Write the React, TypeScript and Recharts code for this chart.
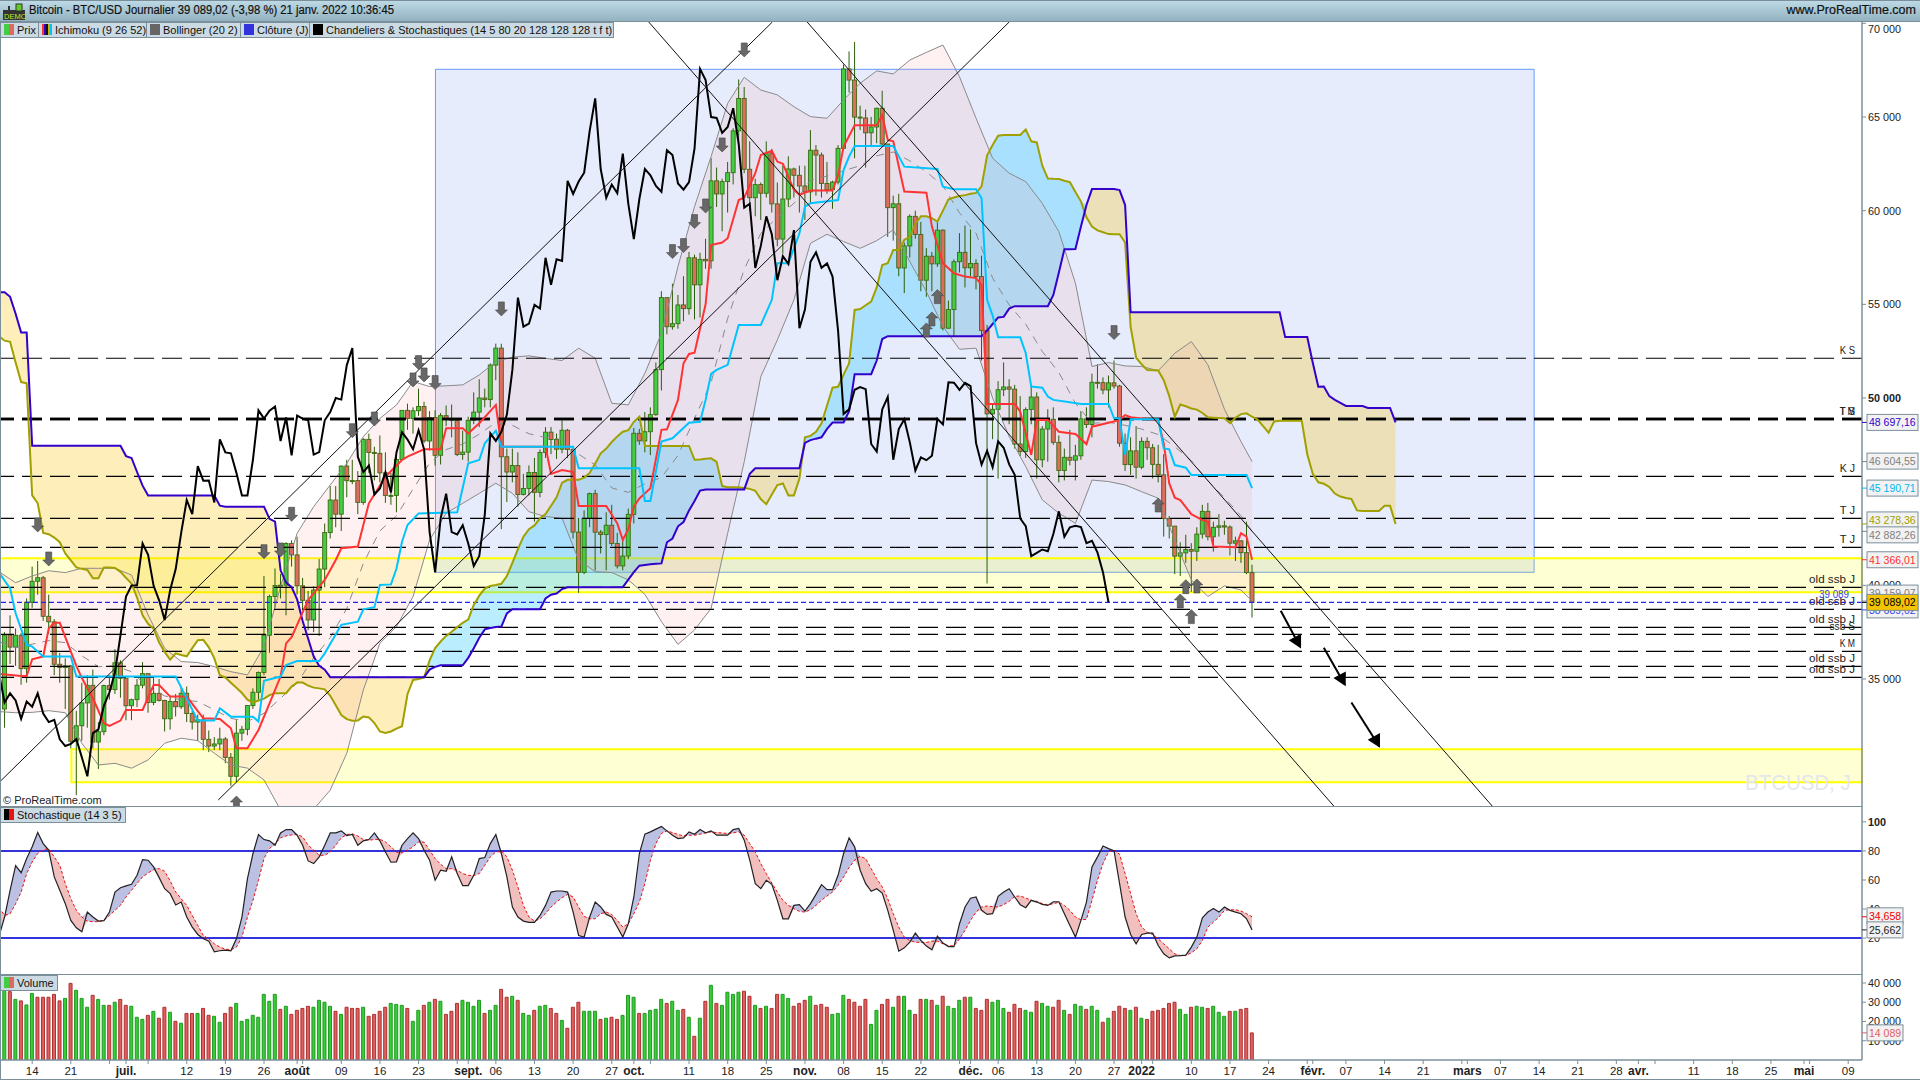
import {
  Area,
  Bar,
  Cell,
  ComposedChart,
  Line,
  ReferenceArea,
  ReferenceLine,
  Scatter,
  XAxis,
  YAxis,
} from 'recharts';

// Daily candles, first one is 9 June 2021 (day -5), day 0 is 14 June 2021
const closes = [
  37345, 36702, 37334, 35552, 39097, 40218, 40406, 38347, 38053, 35787,
  35615, 35698, 31676, 32505, 33723, 34662, 31637, 32186, 34649, 34434,
  35867, 35040, 33572, 33897, 34668, 35287, 33746, 34235, 33855, 32877,
  33798, 33520, 34240, 33155, 32702, 32822, 31780, 31421, 31533, 31796,
  30817, 29807, 32110, 32313, 33581, 34292, 35350, 37337, 39406, 39995,
  40008, 42235, 41626, 39974, 39201, 38152, 39747, 40869, 42816, 44555,
  43798, 46365, 45585, 45593, 44428, 47793, 47096, 47047, 46004, 44801,
  44802, 46717, 49339, 48905, 49321, 49546, 47706, 48960, 46942, 49058,
  48897, 48806, 46981, 47112, 48810, 49246, 49999, 49915, 51756, 52663,
  46863, 46048, 46395, 44850, 45173, 46025, 44963, 47092, 48176, 47783,
  47267, 48279, 47260, 42843, 40693, 43574, 44895, 42839, 42716, 43208,
  42235, 41034, 41564, 43790, 48116, 47711, 48199, 49112, 51514, 55361,
  53805, 53967, 54968, 54771, 57484, 56041, 57401, 57321, 61593, 60892,
  61553, 62026, 64261, 65992, 62210, 60692, 61393, 60930, 63039, 60363,
  58482, 60622, 62227, 61888, 61318, 61004, 63226, 62970, 61452, 61125,
  61527, 63326, 67566, 66971, 64995, 64949, 64155, 64469, 65466, 63557,
  60161, 60368, 56942, 58119, 59697, 58730, 56289, 57569, 57159, 58960,
  53726, 54721, 57274, 57776, 56950, 57184, 56480, 53601, 49152, 49396,
  50441, 50588, 50471, 47545, 47140, 49389, 50053, 46702, 48343, 48864,
  47632, 46131, 46834, 46681, 46914, 48889, 48588, 50838, 50820, 50429,
  50809, 50640, 47588, 46444, 47178, 46306, 47686, 47345, 46458, 45897,
  43569, 43160, 41558, 41734, 41912, 41821, 42735, 43949, 42591, 43099,
  43177, 43113, 42250, 42375, 41744, 40680, 39089.02,
];
const opens = [33400, ...closes.slice(0, -1)];
const highs = [
  37500, 38400, 37700, 37450, 39300, 41000, 41300, 40500, 39500, 38200,
  36400, 36100, 35750, 33300, 34800, 35200, 35500, 32700, 34700, 35200,
  36600, 36000, 35050, 33950, 35000, 35900, 35300, 35100, 35000, 33900,
  34100, 34200, 34550, 34600, 33300, 33100, 33100, 32250, 31900, 32400,
  31900, 31050, 32800, 32500, 33600, 34500, 35400, 40500, 39500, 40900,
  40600, 42300, 42400, 42600, 40400, 39700, 39950, 41400, 43300, 45300,
  45300, 46400, 46700, 46700, 46100, 47850, 48100, 47400, 48000, 47100,
  46000, 47000, 49350, 49700, 49500, 50500, 49800, 49300, 49350, 49200,
  49600, 49650, 48900, 48250, 49000, 50300, 51000, 50500, 51850, 52900,
  52900, 47300, 47300, 47100, 45950, 46400, 46800, 47250, 48450, 48450,
  48100, 48800, 48350, 47300, 43600, 44000, 44950, 45100, 42950, 43900,
  44300, 42800, 42600, 44100, 48400, 48350, 49250, 49500, 51900, 55700,
  55300, 56100, 55500, 56500, 57800, 57650, 57750, 58500, 62800, 62300,
  61700, 62600, 64400, 67000, 66600, 63700, 61700, 61500, 63700, 63300,
  61500, 62400, 62900, 62300, 62400, 62400, 64300, 63500, 63100, 62600,
  61600, 63500, 67800, 68500, 69000, 65600, 65400, 65000, 65500, 66400,
  63500, 60800, 60900, 58300, 59800, 60000, 59400, 58000, 57800, 59400,
  59000, 55200, 57400, 58800, 59200, 59000, 57400, 57600, 53900, 49700,
  50900, 51900, 51000, 50700, 50100, 49500, 50700, 50300, 48500, 49400,
  49500, 48000, 47300, 48300, 47500, 49300, 49500, 51300, 51800, 51100,
  51200, 52000, 50700, 48100, 47900, 48500, 47900, 47900, 47550, 47500,
  47000, 43700, 43100, 42300, 42700, 42250, 43100, 44300, 44400, 43400,
  43800, 43450, 43200, 42600, 42400, 43400, 41100,
];
const lows = [
  32400, 35800, 35700, 34700, 34800, 38800, 39500, 38100, 37400, 35200,
  34800, 33400, 31300, 28800, 31700, 32400, 31300, 30200, 32000, 33900,
  34200, 34000, 32800, 32800, 33500, 34500, 33200, 33600, 33800, 32200,
  32300, 33000, 33400, 32700, 32300, 31700, 31200, 31100, 31200, 31200,
  30500, 29300, 29500, 31700, 32000, 33400, 33900, 35200, 36400, 38800,
  39300, 38400, 41000, 39500, 38700, 37600, 37500, 37300, 39900, 42500,
  43100, 42900, 44700, 45400, 43800, 44300, 46000, 45600, 45500, 44400,
  44300, 43900, 46700, 48300, 48100, 49050, 47600, 47200, 46400, 46450,
  48500, 47900, 46900, 46700, 46600, 48600, 48450, 49500, 49500, 50950,
  43000, 44450, 45500, 44200, 44800, 44800, 43400, 44700, 46800, 47000,
  46750, 47050, 46800, 42500, 39600, 40600, 43100, 40800, 41700, 40800,
  42100, 40900, 40800, 41400, 43300, 47500, 47100, 46950, 49050, 50400,
  53400, 53650, 53700, 54100, 54450, 54200, 54300, 56900, 56900, 60200,
  58900, 59900, 61400, 63500, 62000, 60000, 59700, 59500, 60700, 59900,
  58100, 57700, 60200, 60700, 59900, 59500, 60400, 60800, 60700, 60900,
  60100, 61400, 63300, 66300, 62800, 64300, 62300, 63400, 63600, 63400,
  58600, 58400, 56500, 55600, 57500, 58500, 55700, 55400, 55700, 57000,
  53600, 53700, 53300, 56700, 55900, 56500, 55800, 52000, 40100, 47800,
  45700, 50100, 48600, 47300, 46900, 46800, 48600, 45700, 46300, 46600,
  47500, 45500, 45600, 46400, 45600, 46700, 48400, 47900, 50500, 50200,
  49500, 50500, 47400, 46100, 45900, 45700, 46200, 46700, 45700, 45500,
  42600, 42500, 40600, 40500, 41200, 39650, 41300, 42500, 42400, 41800,
  42600, 42700, 41600, 41300, 41200, 40600, 38280,
];

// Ichimoku cloud, one value per day from day -6 to day 247
const senkouB = [
  55650, 55650, 55400, 54500, 53500, 53500, 47450, 47450, 47450, 47450,
  47450, 47450, 47450, 47450, 47450, 47450, 47450, 47450, 47450, 47450,
  47450, 47450, 47450, 46900, 46800, 46050, 45320, 44800, 44800, 44800,
  44800, 44800, 44800, 44800, 44800, 44800, 44800, 44800, 44800, 44800,
  44250, 44200, 44200, 44200, 44200, 44200, 44200, 44200, 44200, 43550,
  43400, 40800, 40150, 39900, 39250, 38100, 37150, 36200, 35700, 35500,
  35100, 35100, 35100, 35100, 35100, 35100, 35100, 35100, 35100, 35100,
  35100, 35100, 35100, 35100, 35100, 35100, 35100, 35100, 35500, 35650,
  35730, 35730, 35730, 35730, 35730, 36130, 36640, 37200, 37650, 37720,
  37770, 37800, 38500, 38720, 38720, 38720, 38720, 38720, 38720, 39300,
  39500, 39560, 39800, 39900, 39900, 39900, 39900, 39900, 39900, 39900,
  39900, 39900, 39900, 39900, 40300, 40700, 41050, 41090, 41120, 41150,
  41170, 42300, 42500, 43150, 43380, 44000, 44500, 45060, 45120, 45120,
  45120, 45120, 45120, 45120, 45120, 45120, 45950, 46250, 46250, 46250,
  46250, 46250, 46250, 46250, 46250, 46250, 47600, 47750, 47830, 47900,
  48350, 48690, 48690, 48690, 49300, 51270, 51270, 51270, 51270, 52000,
  53150, 53300, 53300, 53300, 53300, 53300, 53300, 53300, 53300, 53300,
  53300, 53300, 53300, 53300, 53300, 53300, 53300, 53300, 53300, 53600,
  53950, 54300, 54330, 54770, 54900, 54900, 54900, 54900, 54900, 54900,
  54900, 55500, 56700, 57940, 57940, 57950, 59150, 60300, 61150, 61150,
  61150, 61150, 61150, 61100, 60300, 54580, 54580, 54580, 54580, 54580,
  54580, 54580, 54580, 54580, 54580, 54580, 54580, 54580, 54580, 54580,
  54580, 54580, 54580, 54580, 54580, 54580, 54580, 54580, 54580, 54580,
  54580, 54580, 54580, 53250, 53250, 53250, 53250, 53250, 51880, 50600,
  50610, 50100, 49900, 49740, 49575, 49573, 49570, 49570, 49470, 49466,
  49466, 49466, 49466, 48697.16,
];
const senkouA = [
  53300, 53060, 53000, 51900, 50850, 50790, 44800, 44380, 42800, 42730,
  42550, 42300, 41700, 41330, 40960, 40880, 40820, 40380, 40380, 40950,
  40950, 40930, 40720, 40400, 40100, 39350, 38400, 37950, 37680, 36950,
  36450, 36030, 36370, 36280, 36210, 36650, 37070, 37090, 36690, 36100,
  35200, 35080, 34800, 34530, 34250, 33900, 33750, 33850, 33950, 34140,
  34240, 34240, 34240, 34600, 34810, 34810, 34650, 34540, 34500, 34450,
  34100, 33600, 33080, 32860, 32770, 32790, 33000, 32950, 32650, 32200,
  32120, 32200, 32350, 32480, 34200, 34950, 35000, 35080, 36000, 36650,
  37000, 37300, 37520, 37770, 38000, 38170, 38950, 39450, 39830, 39970,
  40020, 40080, 40500, 41200, 41930, 42600, 43000, 43200, 43580, 43800,
  44250, 44700, 45480, 45630, 45630, 45630, 45750, 46000, 46500, 47050,
  47300, 47650, 47950, 48200, 48280, 48730, 49000, 47450, 47440, 47440,
  47440, 47440, 47440, 47440, 47440, 47440, 46700, 46720, 46760, 46780,
  46590, 45300, 45240, 45240, 45240, 45200, 45150, 45050, 44600, 44330,
  44850, 45350, 45440, 44800, 44800, 45700, 47900, 47980, 48200, 48650,
  49600, 50550, 50600, 51250, 51850, 54700, 54750, 54950, 55150, 55900,
  57100, 57200, 57900, 57900, 58450, 58600, 59300, 59700, 59700, 59600,
  59420, 60000, 60600, 60700, 60780, 60830, 60900, 60950, 61300, 62950,
  63500, 64000, 64040, 64040, 64040, 64040, 64340, 63700, 63640, 62400,
  61720, 61700, 61690, 61600, 61520, 61000, 60500, 59650, 59150, 58950,
  58850, 58750, 58740, 58740, 58300, 53800, 52150, 51800, 51490, 51480,
  51470, 50950, 50100, 49000, 49650, 49560, 49440, 49380, 49200, 48970,
  48950, 48930, 48915, 48660, 48950, 49140, 49180, 49000, 48850, 48500,
  48150, 48750, 48790, 48790, 48790, 48790, 48790, 47000, 45950, 45500,
  45420, 45250, 44900, 44740, 44660, 44610, 44000, 43970, 43970, 43970,
  43970, 44250, 44250, 43278.36,
];

// Tenkan and kijun, read at the corners of each line
const tenkanDays = [
  -6, -2, -1, 0, 2, 3, 4, 5, 8, 9, 11, 13, 14, 16, 17, 20, 22, 23, 25, 28, 31, 34, 36, 37, 39, 41, 43, 45, 46, 47, 50,
  53, 55, 56, 59, 61, 64, 67, 68, 71, 74, 75, 78, 79, 81, 84, 85, 93, 94, 96, 98, 99, 104, 106, 107, 108, 109, 110,
  112, 114, 115, 117, 118, 119, 120, 122, 123, 125, 126, 128, 129, 131, 132, 134, 135, 136, 138, 139, 141, 145, 146,
  147, 149, 153, 154, 155, 156, 158, 162, 163, 165, 167, 169, 171, 172, 173, 178, 179, 181, 182, 184, 186, 189, 191,
  192, 195, 197, 198, 199, 204, 205, 206, 207, 208, 210, 212, 213, 214, 218, 219, 220, 221,
];
const tenkanValues = [
  35270, 35160, 35160, 36050, 36200, 37700, 38000, 38000, 35700, 35050, 33970, 32640, 32500, 32780, 33350, 33350, 34680,
  34680, 34060, 34060, 32900, 32870, 32370, 31300, 31300, 32280, 33700, 35130, 36900, 37230, 39220, 40290, 41350, 41980,
  42070, 44380, 45800, 46690, 46870, 47260, 47260, 48380, 48380, 48110, 48650, 49630, 47400, 47400, 45950, 46150, 46050,
  44240, 44240, 43300, 42420, 43000, 44200, 44640, 45180, 48300, 48330, 49900, 51850, 52350, 52420, 55000, 58170, 58300,
  58530, 60570, 60700, 62000, 62970, 63200, 62620, 62500, 61110, 60840, 61070, 61070, 61900, 63420, 64560, 64560, 65100,
  63770, 63700, 61020, 60960, 59150, 57190, 56660, 56480, 56400, 56040, 49680, 49680, 49270, 46960, 48830, 48830, 48200,
  48080, 47540, 48470, 48680, 48820, 49090, 48970, 48820, 47580, 45440, 44680, 44550, 43800, 43480, 43400, 42070, 42030,
  42780, 42600, 41366.01,
];
const kijunDays = [
  -6, -4, -3, -1, 0, 2, 7, 8, 26, 30, 33, 34, 36, 40, 41, 42, 45, 46, 48, 52, 53, 56, 59, 60, 62, 63, 65, 66, 67, 68,
  70, 77, 79, 81, 82, 84, 85, 98, 99, 110, 111, 112, 114, 116, 119, 121, 122, 123, 124, 126, 128, 132, 134, 135, 137,
  139, 140, 141, 146, 147, 148, 149, 156, 158, 164, 165, 167, 171, 172, 173, 174, 175, 179, 180, 181, 183, 184, 185,
  188, 190, 195, 196, 197, 198, 199, 204, 205, 206, 207, 209, 210, 220, 221,
];
const kijunValues = [
  40680, 39840, 38510, 36820, 36730, 36200, 36200, 35130, 35130, 32780, 32780, 33440, 32990, 32990, 32730, 34910, 35130,
  35750, 35960, 35960, 36370, 37890, 38060, 38720, 38830, 40020, 40050, 40900, 42330, 43220, 43840, 43900, 46510, 46690,
  47580, 48260, 47400, 47400, 46250, 46250, 44500, 44500, 47670, 47850, 48680, 48730, 49900, 51285, 51500, 51770, 53900,
  53900, 55240, 57190, 57190, 58790, 60220, 60400, 60570, 62170, 62890, 63450, 63450, 62350, 62230, 61280, 61140, 61140,
  60660, 55240, 54400, 53240, 53240, 52390, 50610, 50550, 50080, 49900, 49770, 49680, 49680, 48915, 48915, 46960, 48860,
  48860, 47310, 47260, 46420, 46280, 45890, 45890, 45190.71,
];

// Bollinger 20 2, read every third day
const bollingerDays = [
  -6, -3, 0, 3, 6, 9, 12, 15, 18, 21, 24, 27, 30, 33, 36, 39, 42, 45, 48, 51, 54, 57, 60, 63, 66, 69, 72, 75, 78, 81,
  84, 87, 90, 93, 96, 99, 102, 105, 108, 111, 114, 117, 120, 123, 126, 129, 132, 135, 138, 141, 144, 147, 150, 153,
  156, 159, 162, 165, 168, 171, 174, 177, 180, 183, 186, 189, 192, 195, 198, 201, 204, 207, 210, 213, 216, 219, 221,
];
const bollingerUpper = [
  40730, 40140, 40500, 40780, 40680, 40910, 40910, 40910, 40550, 38420, 36640, 35930, 35880, 35660, 35390, 35220, 36730,
  39930, 42780, 44200, 45360, 46510, 47940, 48910, 49630, 50880, 50610, 50650, 50700, 51230, 51940, 52180, 52250, 52120,
  52000, 52660, 52120, 49720, 49630, 51320, 53460, 57020, 60220, 62890, 65730, 67120, 66440, 66180, 65550, 65020, 64930,
  65910, 66800, 67460, 67300, 68040, 68450, 68840, 67150, 64930, 62800, 62000, 61550, 60390, 58880, 56130, 51680, 51890,
  51710, 51680, 51460, 52390, 53010, 51770, 49400, 47670, 46604.55,
];
const bollingerLower = [
  33260, 33200, 33220, 33310, 33200, 31570, 30410, 30500, 30240, 30680, 31570, 31840, 31710, 31040, 30410, 30240, 29610,
  28000, 26800, 28050, 29070, 31040, 34420, 36910, 37800, 39400, 42420, 43850, 44380, 44910, 45450, 44910, 43930, 43670,
  43580, 41350, 40730, 40680, 40290, 39520, 38060, 36850, 37620, 38770, 42780, 46600, 51140, 53100, 55240, 58260, 58740,
  58350, 57990, 58400, 58970, 57280, 55680, 53810, 52600, 52660, 50000, 47940, 46340, 44560, 43850, 43310, 45620, 45540,
  45360, 45000, 44650, 42420, 40290, 39400, 39970, 39750, 39159.07,
];
const bollingerMiddle = [
  37000, 36670, 36860, 37050, 36940, 36240, 35660, 35700, 35390, 34550, 34100, 33880, 33800, 33350, 32900, 32730, 33170,
  33970, 34790, 36130, 37210, 38770, 41180, 42910, 43710, 45140, 46520, 47250, 47540, 48070, 48690, 48540, 48090, 47890,
  47790, 47000, 46430, 45200, 44960, 45420, 45760, 46930, 48920, 50830, 54250, 56860, 58790, 59640, 60390, 61640, 61840,
  62130, 62400, 62930, 63130, 62660, 62070, 61330, 59880, 58790, 56400, 54970, 53940, 52480, 51360, 49720, 48650, 48710,
  48540, 48340, 48050, 47400, 46650, 45580, 44680, 43710, 42882.26,
];

// Signal arrows
const downArrowDays = [1, 3, 42, 45, 47, 58, 62, 69, 70, 71, 73, 85, 116, 118, 120, 122, 125, 129, 196];
const downArrowValues = [
  43222, 41407, 41799, 41888, 43791, 48256, 48879, 50965, 51890, 51232, 50823, 54755, 57815, 58135, 59416, 60252, 63507,
  68578, 53492,
];
const upArrowDays = [37, 162, 163, 164, 204, 208, 209, 210, 211];
const upArrowValues = [28380, 53634, 54221, 55413, 44289, 39166, 39931, 38330, 39966];

// Horizontal levels drawn by hand on the chart
const levelValues = [52122, 48879, 48879, 45819, 43578, 42030, 39895, 38721, 37760, 37387, 36479, 35679, 35092];
const levelNames = ['K S', 'T M', 'T S', 'K J', 'T J', 'T J', 'old ssb J', 'old ssb J', 'old ssb J', 'ssb S', 'K M', 'old ssb J', 'old ssb J'];

// Stochastic 14 3 5, one value per day from day -6 to day 221
const stochK = [
  21.4, 34.5, 52.9, 69.9, 65.0, 74.7, 82.8, 92.6, 85.0, 80.4, 62.1, 52.9, 43.7, 32.2, 27.1, 24.4, 37.9, 34.5, 31.7, 32.0,
  37.9, 51.7, 54.7, 55.9, 57.0, 63.2, 74.0, 73.6, 69.0, 61.6, 54.0, 50.6, 42.8, 44.8, 34.5, 27.6, 22.5, 19.5, 17.9, 10.6,
  11.3, 11.7, 11.3, 19.5, 34.5, 60.9, 78.2, 91.3, 87.8, 86.9, 83.9, 92.4, 94.7, 94.7, 90.8, 83.9, 73.1, 71.3, 75.9, 83.9,
  92.4, 92.4, 93.8, 90.6, 91.3, 83.9, 86.9, 87.8, 92.4, 86.9, 79.3, 72.2, 72.4, 83.9, 88.5, 92.4, 88.5, 80.5, 73.6, 59.8,
  66.7, 66.0, 75.9, 64.4, 56.1, 56.1, 63.2, 74.7, 75.4, 85.0, 91.3, 78.2, 62.1, 41.4, 34.5, 31.7, 30.8, 30.8, 35.6, 42.5,
  51.7, 52.4, 52.4, 51.7, 37.9, 21.8, 20.7, 34.5, 44.8, 41.4, 36.3, 34.5, 27.6, 20.7, 29.9, 48.3, 78.2,
  91.5, 93.1, 95.0, 96.8, 93.8, 90.8, 88.5, 89.0, 93.1, 91.5, 94.7, 92.4, 93.8, 90.8, 90.8, 90.8, 94.7, 95.4, 87.4, 73.6,
  57.5, 54.0, 59.8, 57.0, 46.0, 33.3, 33.3, 42.5, 43.0, 38.6, 43.7, 50.1, 56.8, 53.3, 53.3, 63.2, 78.2, 89.0, 82.8, 66.7,
  57.5, 52.2, 54.0, 51.0, 39.1, 25.3, 11.0, 13.3, 17.2, 23.4, 18.4, 14.5, 12.0, 21.4, 16.6, 14.2, 14.2, 29.9, 41.4, 47.4,
  48.3, 39.1, 36.3, 36.8, 48.7, 51.7, 54.0, 48.3, 43.0, 40.9, 46.0, 44.8, 43.2, 42.5, 45.0, 45.0, 36.8, 28.7, 20.7, 32.2,
  44.8, 69.0, 75.9, 83.4, 81.6, 80.0, 57.5, 34.5, 22.5, 16.1, 22.5, 23.4, 23.4, 14.9, 9.2, 6.4, 7.8, 8.0, 8.3, 13.8,
  20.7, 34.0, 37.9, 40.4, 37.9, 41.4, 39.1, 37.9, 36.8, 33.3, 25.662,
];
const stochD = [
  41.0, 35.6, 36.8, 43.7, 51.7, 64.4, 72.4, 78.2, 80.9, 81.4, 75.9, 70.1, 57.5, 47.1, 39.1, 34.5, 31.7, 31.3, 31.3, 32.2,
  35.6, 39.1, 42.5, 48.3, 52.9, 57.5, 62.1, 64.8, 67.1, 67.8, 66.0, 59.3, 51.7, 47.1, 42.5, 35.6, 28.7, 21.8, 19.5, 16.1,
  13.8, 12.4, 12.0, 13.8, 20.7, 34.5, 46.0, 59.8, 74.7, 81.6, 85.0, 89.0, 90.3, 91.0, 91.3, 89.7, 83.9, 80.5, 77.0, 77.0,
  79.3, 83.9, 89.0, 91.3, 91.7, 90.3, 87.8, 87.4, 87.8, 88.0, 86.2, 82.8, 79.1, 78.6, 80.5, 82.8, 86.2, 86.0, 80.5, 74.7,
  70.8, 67.8, 67.8, 66.7, 64.4, 63.2, 63.0, 64.4, 70.1, 75.9, 79.3, 80.0, 75.9, 66.7, 55.2, 42.5, 34.5, 31.7, 33.3, 36.8,
  41.4, 44.8, 47.8, 50.1, 48.3, 41.4, 34.9, 33.3, 33.3, 36.8, 37.9, 36.3, 32.2, 27.6, 29.9, 36.8, 44.8,
  57.5, 73.6, 85.0, 92.0, 93.8, 92.6, 91.3, 90.3, 90.8, 90.8, 91.5, 92.4, 93.1, 92.6, 92.4, 92.0, 92.4, 93.1, 90.8, 85.0,
  79.3, 71.3, 64.4, 57.9, 51.7, 46.0, 42.5, 40.2, 38.4, 37.9, 39.5, 42.5, 46.0, 49.0, 51.7, 56.3, 62.1, 68.5, 73.6, 76.3,
  74.7, 67.8, 60.9, 55.2, 47.1, 36.8, 27.6, 20.7, 18.4, 17.2, 17.0, 17.0, 17.9, 17.9, 16.1, 14.7, 14.7, 19.5, 25.3, 32.2,
  37.9, 41.4, 42.1, 41.6, 41.4, 43.0, 45.3, 48.7, 49.0, 47.6, 46.0, 45.3, 43.7, 42.8, 43.7, 44.6, 42.5, 39.1, 34.5, 32.6,
  32.9, 46.0, 59.8, 71.3, 79.3, 80.5, 77.7, 64.4, 50.6, 36.8, 27.6, 24.1, 22.5, 19.5, 16.1, 12.6, 9.2, 8.0, 8.0, 9.9,
  12.6, 18.4, 27.6, 31.0, 34.5, 39.1, 39.5, 39.5, 38.6, 36.8, 34.658,
];

// Volume, one bar per day from day -5 to day 221
const volumes = [
  36400, 35500, 31500, 30700, 28600, 34600, 32600, 32600, 32600, 34100, 30700, 32000, 39800, 36200, 32000, 27400, 33600,
  31500, 28400, 28400, 30000, 31500, 28400, 27900, 22200, 21100, 23200, 25300, 21700, 27400, 24800, 20100, 19100, 24200,
  24200, 24200, 26800, 23200, 22700, 19600, 24200, 27400, 29400, 20100, 21100, 23200, 22200, 34100, 30500, 34100, 26300,
  27900, 23700, 25800, 26800, 27900, 27400, 31000, 30000, 27900, 25300, 23700, 27400, 26800, 26800, 27400, 22700, 23700,
  25300, 27400, 29400, 28900, 28400, 26800, 20100, 25800, 28400, 30000, 31500, 30500, 23700, 25300, 29400, 31000, 30000,
  27900, 31000, 24200, 25800, 28400, 36700, 32600, 33100, 31000, 24200, 23200, 25800, 27900, 28400, 26800, 24200, 20600,
  16500, 27400, 30000, 25300, 25300, 25300, 21100, 21700, 22200, 21100, 23200, 33600, 32600, 24200,
  24200, 25800, 26300, 31500, 29400, 30500, 25800, 26300, 22200, 12300, 21700, 30500, 38800, 29400, 28400, 35200, 34100,
  35200, 35700, 33100, 28400, 26800, 27900, 26800, 34100, 34100, 32000, 27900, 29400, 31000, 33100, 28400, 28900, 27400,
  23700, 24200, 33600, 31500, 30000, 27900, 31500, 18500, 25800, 28900, 31500, 27400, 33100, 33100, 25800, 23700, 31500,
  31500, 31000, 28400, 33100, 27900, 26800, 31000, 32600, 32600, 26800, 25800, 31500, 30000, 31000, 26800, 24800, 28900,
  26800, 25800, 24800, 30500, 29400, 27900, 27400, 31000, 25800, 23700, 28900, 27900, 26300, 27900, 25800, 19600, 21700,
  25300, 27900, 26800, 25800, 27400, 21700, 21100, 25300, 25800, 26800, 29400, 30000, 26300, 23700, 27400, 27900, 27400,
  26800, 27900, 24800, 22700, 25300, 25300, 26300, 26800, 14089,
];
const volumeDirectionRows = [
  'grgrggrrrr', 'rgrgggrggr', 'grrgggrgrr', 'grgrrgrrgg', 'rrgggggggg', 'rgrrrrgggg', 'rgrrrgrrrr', 'gggrggrgrg',
  'rrrggggrgg', 'rrgrggrggr', 'rgrrrgggrg', 'rrgggr',
  'ggggrggrgr', 'grgrggggrr', 'grgrrggrrr', 'grrrgggrrr', 'rggrrgrggr', 'rgrgrgggrg', 'rrrgggrrrg', 'grggrrgrgg',
  'rggrgrrrgr', 'grrrrrrggr', 'ggrgggrgrrr',
];

// Tick labels
const xTickDays = [
  0, 7, 14, 17, 21, 28, 35, 42, 48, 49, 56, 63, 70, 77, 79, 84, 91, 98, 105, 109, 112, 119, 126, 133, 140, 147, 154, 161,
  168, 170, 175, 182, 189, 196, 201, 203, 210, 217, 224, 231, 232, 238, 245, 252, 259, 260, 266, 273, 280, 287, 291, 294,
  301, 308, 315, 321, 322, 329,
];
const xTickLabels = [
  '14', '21', '', 'juil.', '', '12', '19', '26', 'août', '', '09', '16', '23', '', 'sept.', '06', '13', '20', '27', 'oct.', '',
  '11', '18', '25', 'nov.', '08', '15', '22', '', 'déc.', '06', '13', '20', '27', '2022', '', '10', '17', '24', '', 'févr.',
  '07', '14', '21', '', 'mars', '07', '14', '21', '28', 'avr.', '', '11', '18', '25', 'mai', '', '09',
];
const priceTicks = [70000, 65000, 60000, 55000, 50000, 40000, 35000];
const priceTags = [48697.16, 46604.55, 45190.71, 43278.36, 42882.26, 41366.01, 39159.07, 38689.02, 39089.02];
const stochTicks = [100, 80, 60, 40, 20];
const stochTags = [34.658, 25.662];
const volumeTicks = [40000, 30000, 20000, 10000];
const volumeTag = 14089;

const FONT = "'Liberation Sans', Arial, sans-serif";
const WIDTH = 1920;
const X_DOMAIN: [number, number] = [-5.83, 331.5];
const PRICE_DOMAIN: [number, number] = [28221, 70071];
const AXIS_COLOR = '#7b8f9b';

const tagColors: Record<number, { color: string; bg: string; dy: number }> = {
  48697.16: { color: '#3300cc', bg: '#f2f2f2', dy: 0 },
  46604.55: { color: '#808080', bg: '#f2f2f2', dy: -0.5 },
  45190.71: { color: '#00b8f0', bg: '#f2f2f2', dy: 0 },
  43278.36: { color: '#a0a000', bg: '#f2f2f2', dy: -4 },
  42882.26: { color: '#808080', bg: '#f2f2f2', dy: 3.5 },
  41366.01: { color: '#ff3030', bg: '#f2f2f2', dy: 0 },
  39159.07: { color: '#808080', bg: '#f2f2f2', dy: -8 },
  38689.02: { color: '#3344ee', bg: '#f2f2f2', dy: 0 },
  39089.02: { color: '#000000', bg: '#f5c400', dy: 0 },
  34.658: { color: '#ee0000', bg: '#f2f2f2', dy: -1 },
  25.662: { color: '#222222', bg: '#f2f2f2', dy: 0 },
  14089: { color: '#e06060', bg: '#f2f2f2', dy: 0 },
};

function points(days: number[], values: number[]) {
  return days.map((day, i) => ({ day, v: values[i] }));
}

const candles = closes.map((close, i) => ({
  day: i - 5,
  open: opens[i],
  close,
  high: highs[i],
  low: lows[i],
  range: [lows[i], highs[i]],
}));

const cloud = senkouA.map((a, i) => {
  const b = senkouB[i];
  return {
    day: i - 6,
    a,
    b,
    bull: [b, Math.max(a, b)],
    bear: [Math.min(a, b), b],
  };
});

const bollinger = bollingerDays.map((day, i) => ({
  day,
  upper: bollingerUpper[i],
  lower: bollingerLower[i],
  middle: bollingerMiddle[i],
  band: [bollingerLower[i], bollingerUpper[i]],
}));

// The black line is the close moved back 26 days
const chikou = closes.slice(25).map((v, i) => ({ day: i - 6, v }));

const stochastic = stochK.map((k, i) => {
  const d = stochD[i];
  return {
    day: i - 6,
    k,
    d,
    above: [d, Math.max(k, d)],
    below: [Math.min(k, d), d],
  };
});

const directions = volumeDirectionRows.join('');
const volumeBars = volumes.map((v, i) => ({ day: i - 5, v, dir: directions[i] }));

function formatFr(value: number, decimals: number) {
  const [whole, frac] = value.toFixed(decimals).split('.');
  const grouped = whole.replace(/\B(?=(\d{3})+$)/g, ' ');
  return frac ? `${grouped},${frac}` : grouped;
}

function Candle(props: any) {
  const { x, y, width, height, payload } = props;
  const { open, close, high, low } = payload;
  const top = Math.min(y, y + height);
  const scale = Math.abs(height) / (high - low);
  const center = x + width / 2;
  const bodyTop = top + (high - Math.max(open, close)) * scale;
  const bodyHeight = Math.max(Math.abs(open - close) * scale, 1);
  return (
    <g>
      <line x1={center} x2={center} y1={top} y2={top + Math.abs(height)} stroke="#2b5e08" strokeWidth={1} />
      <rect
        x={center - 2}
        y={bodyTop}
        width={4}
        height={bodyHeight}
        fill={close >= open ? '#44cc44' : '#e06c60'}
        stroke="#3c6a10"
        strokeWidth={0.9}
      />
    </g>
  );
}

function SignalArrow(props: any) {
  const { cx, cy, up } = props;
  if (cx == null || cy == null) return null;
  const d = up ? -1 : 1;
  const path = `M${cx - 3} ${cy - 7 * d} L${cx + 3} ${cy - 7 * d} L${cx + 3} ${cy + 1 * d} L${cx + 6} ${cy + 1 * d} L${cx} ${cy + 7 * d} L${cx - 6} ${cy + 1 * d} L${cx - 3} ${cy + 1 * d} Z`;
  return <path d={path} fill="#686868" stroke="#444" strokeWidth={0.6} />;
}

function ArrowEnd(props: any) {
  const { cx, cy, index, angle } = props;
  if (index !== 1) return null;
  return (
    <path
      d="M0 2 L-7 -11 L7 -11 Z"
      transform={`translate(${cx} ${cy}) rotate(${angle})`}
      fill="#000"
    />
  );
}

function LevelLabel(props: any) {
  const { viewBox, text, color } = props;
  if (!viewBox) return null;
  return (
    <text
      x={viewBox.x + viewBox.width - (color ? 13 : 7)}
      y={viewBox.y - 4}
      textAnchor="end"
      fontFamily={FONT}
      fontSize={color ? 10 : 11.5}
      fill={color || '#222'}
      textLength={text.length * (color ? 5 : 5.1)}
      lengthAdjust="spacingAndGlyphs"
    >
      {text}
    </text>
  );
}

function TagBox({ x, y, label, style }: any) {
  const boxWidth = label.length > 6 ? 51 : 36;
  return (
    <g>
      <line x1={x} x2={x + 5} y1={y - style.dy} y2={y - style.dy} stroke={style.color} />
      <rect x={x + 5} y={y - 8} width={boxWidth} height={16} fill={style.bg} stroke="#7b8f9b" strokeWidth={1} />
      <text x={x + 7} y={y + 4} fontFamily={FONT} fontSize={10.5} fill={style.color}>
        {label}
      </text>
    </g>
  );
}

function ValueTick(decimals: number, tagDecimals: number, bold: number | null) {
  return function Tick(props: any) {
    const { x, y, payload } = props;
    const value = payload.value;
    const style = tagColors[value];
    if (style) {
      return <TagBox x={x} y={y + style.dy} label={formatFr(value, tagDecimals)} style={style} />;
    }
    const label = formatFr(value, decimals);
    const textY = value === 70000 ? y + 10 : y + 4;
    return (
      <g>
        <line x1={x} x2={x + 4} y1={y} y2={y} stroke={AXIS_COLOR} />
        <text
          x={x + 6}
          y={textY}
          fontFamily={FONT}
          fontSize={10.8}
          fontWeight={value === bold ? 700 : 400}
          fill="#222"
        >
          {label}
        </text>
      </g>
    );
  };
}

const PriceTick = ValueTick(0, 2, 50000);
const StochTick = ValueTick(0, 3, 100);
const VolumeTick = ValueTick(0, 0, null);

function DayTick(props: any) {
  const { x, y, payload } = props;
  const label = xTickLabels[xTickDays.indexOf(payload.value)];
  const bold = label !== '' && !/^\d\d$/.test(label);
  return (
    <g>
      <line x1={x} x2={x} y1={y} y2={y + 4} stroke={AXIS_COLOR} />
      <text
        x={x}
        y={y + 15}
        textAnchor="middle"
        fontFamily={FONT}
        fontSize={bold ? 12 : 11.5}
        fontWeight={bold ? 700 : 400}
        fill="#222"
      >
        {label}
      </text>
    </g>
  );
}

function Chip({ left, width, top = 22, children }: any) {
  return (
    <div
      style={{
        position: 'absolute',
        left,
        top,
        width,
        height: 16,
        boxSizing: 'border-box',
        background: '#ccdae3',
        border: '1px solid #7b8f9b',
        font: `11px ${FONT}`,
        lineHeight: '14px',
        color: '#111',
        whiteSpace: 'nowrap',
        overflow: 'hidden',
      }}
    >
      {children}
    </div>
  );
}

function Swatch({ colors }: { colors: string[] }) {
  return (
    <span style={{ display: 'inline-flex', width: 10, height: 11, margin: '1px 3px 0 3px', verticalAlign: 'top' }}>
      {colors.map((c) => (
        <span key={c} style={{ flex: 1, background: c }} />
      ))}
    </span>
  );
}

const headerText = {
  position: 'absolute',
  top: 3,
  font: `12.5px ${FONT}`,
  color: '#111',
  whiteSpace: 'nowrap',
  WebkitTextStroke: '0.2px #111',
} as const;

function Header() {
  return (
    <>
      <div
        style={{
          position: 'absolute',
          left: 0,
          top: 0,
          width: WIDTH,
          height: 22,
          boxSizing: 'border-box',
          borderTop: '1px solid #7b8f9b',
          borderBottom: '1px solid #7b8f9b',
          background: 'linear-gradient(#bcd9e5, #93b2bf)',
        }}
      />
      <svg style={{ position: 'absolute', left: 3, top: 3 }} width={22} height={17}>
        <rect x={0} y={7} width={22} height={10} fill="#333" />
        <rect x={13} y={1} width={6} height={7} fill="#66cc22" stroke="#333" />
        <rect x={5} y={3} width={2} height={4} fill="#333" />
        <text x={1} y={16} fontFamily={FONT} fontSize={7.5} fill="#b8f020">
          DEMO
        </text>
      </svg>
      <div style={{ ...headerText, left: 29, transform: 'scaleX(0.9)', transformOrigin: 'left' }}>
        Bitcoin - BTC/USD Journalier 39 089,02 (-3,98 %) 21 janv. 2022 10:36:45
      </div>
      <div style={{ ...headerText, right: 4 }}>www.ProRealTime.com</div>
      <Chip left={0} width={39}>
        <Swatch colors={['#44cc44', '#dd6a5e']} />Prix
      </Chip>
      <Chip left={38} width={109}>
        <Swatch colors={['#ff3030', '#3300cc', '#111', '#d0b000', '#00c0ff']} />Ichimoku (9 26 52)
      </Chip>
      <Chip left={146} width={95}>
        <Swatch colors={['#666', '#666']} />Bollinger (20 2)
      </Chip>
      <Chip left={240} width={70}>
        <Swatch colors={['#3333dd', '#3333dd']} />Clôture (J)
      </Chip>
      <Chip left={309} width={305}>
        <Swatch colors={['#000', '#000']} />Chandeliers &amp; Stochastiques (14 5 80 20 128 128 128 t f t)
      </Chip>
    </>
  );
}

function PriceChart() {
  return (
    <ComposedChart width={WIDTH} height={784} data={candles} margin={{ top: 0, right: 0, bottom: 0, left: 0 }}>
      <XAxis dataKey="day" type="number" domain={X_DOMAIN} allowDataOverflow hide />
      <YAxis
        orientation="right"
        width={58}
        type="number"
        domain={PRICE_DOMAIN}
        allowDataOverflow
        ticks={[...priceTicks, ...priceTags]}
        interval={0}
        tick={PriceTick}
        tickLine={false}
        tickSize={0}
        tickMargin={0}
        axisLine={{ stroke: AXIS_COLOR, strokeWidth: 1.5 }}
      />

      <ReferenceArea x1={73.06} x2={272.1} y1={40696} y2={67546} fill="#e6ecfc" fillOpacity={1} stroke="#6699ff" strokeWidth={1} />
      <ReferenceArea y1={39628} y2={41443} fill="#ffff00" fillOpacity={0.17} stroke="#ffff00" strokeWidth={2} />
      <ReferenceArea x1={7.1} y1={29488} y2={31249} fill="#ffff00" fillOpacity={0.17} stroke="#ffff00" strokeWidth={2} />

      <Area data={cloud} dataKey="bull" stroke="none" fill="#00bfff" fillOpacity={0.27} isAnimationActive={false} dot={false} activeDot={false} />
      <Area data={cloud} dataKey="bear" stroke="none" fill="#f8c000" fillOpacity={0.27} isAnimationActive={false} dot={false} activeDot={false} />
      <Area data={bollinger} dataKey="band" stroke="none" fill="#ff9999" fillOpacity={0.14} isAnimationActive={false} dot={false} activeDot={false} />
      <Line data={bollinger} dataKey="upper" stroke="#8a8a8a" strokeWidth={1} dot={false} activeDot={false} isAnimationActive={false} />
      <Line data={bollinger} dataKey="lower" stroke="#8a8a8a" strokeWidth={1} dot={false} activeDot={false} isAnimationActive={false} />
      <Line data={bollinger} dataKey="middle" stroke="#8a8a8a" strokeWidth={1} strokeDasharray="8 7" dot={false} activeDot={false} isAnimationActive={false} />

      {levelValues.map((value, i) => (
        <ReferenceLine
          key={levelNames[i] + i}
          y={value}
          stroke="#000"
          strokeWidth={value === 48879 ? 2.5 : 1.2}
          strokeDasharray="20 8"
          label={<LevelLabel text={levelNames[i]} />}
        />
      ))}
      <ReferenceLine
        y={39089.02}
        stroke="#2222ee"
        strokeWidth={1.2}
        strokeDasharray="5 3"
        label={<LevelLabel text="39 089" color="#3344ee" />}
      />

      <Line data={cloud} dataKey="a" stroke="#a0a000" strokeWidth={2} dot={false} activeDot={false} isAnimationActive={false} />
      <Line data={cloud} dataKey="b" stroke="#3300cc" strokeWidth={2} dot={false} activeDot={false} isAnimationActive={false} />

      <Bar dataKey="range" barSize={4} shape={Candle} isAnimationActive={false} />

      <Line data={points(tenkanDays, tenkanValues)} dataKey="v" stroke="#ff3333" strokeWidth={2} dot={false} activeDot={false} isAnimationActive={false} />
      <Line data={points(kijunDays, kijunValues)} dataKey="v" stroke="#00c4ff" strokeWidth={2} dot={false} activeDot={false} isAnimationActive={false} />
      <Line data={chikou} dataKey="v" stroke="#000" strokeWidth={2} dot={false} activeDot={false} isAnimationActive={false} />

      <ReferenceLine segment={[{ x: -5.83, y: 29524 }, { x: 134.1, y: 70071 }]} stroke="#111" strokeWidth={1} ifOverflow="hidden" />
      <ReferenceLine segment={[{ x: 33.7, y: 28541 }, { x: 177, y: 70071 }]} stroke="#111" strokeWidth={1} ifOverflow="hidden" />
      <ReferenceLine segment={[{ x: 111.7, y: 70071 }, { x: 235.8, y: 28221 }]} stroke="#111" strokeWidth={1} ifOverflow="hidden" />
      <ReferenceLine segment={[{ x: 140.4, y: 70071 }, { x: 264.5, y: 28221 }]} stroke="#111" strokeWidth={1} ifOverflow="hidden" />

      <Line data={points([226.2, 229.7], [38640, 36720])} dataKey="v" stroke="#000" strokeWidth={2} isAnimationActive={false} activeDot={false} dot={<ArrowEnd angle={-28} />} />
      <Line data={points([234, 237.8], [36670, 34710])} dataKey="v" stroke="#000" strokeWidth={2} isAnimationActive={false} activeDot={false} dot={<ArrowEnd angle={-28} />} />
      <Line data={points([239, 244], [33750, 31420])} dataKey="v" stroke="#000" strokeWidth={2} isAnimationActive={false} activeDot={false} dot={<ArrowEnd angle={-28} />} />

      <Scatter data={points(downArrowDays, downArrowValues)} dataKey="v" shape={<SignalArrow />} isAnimationActive={false} />
      <Scatter data={points(upArrowDays, upArrowValues)} dataKey="v" shape={<SignalArrow up />} isAnimationActive={false} />
    </ComposedChart>
  );
}

function StochasticChart() {
  return (
    <ComposedChart width={WIDTH} height={168} data={stochastic} margin={{ top: 0, right: 0, bottom: 0, left: 0 }}>
      <XAxis dataKey="day" type="number" domain={X_DOMAIN} allowDataOverflow hide />
      <YAxis
        orientation="right"
        width={58}
        type="number"
        domain={[-4.7, 110.9]}
        allowDataOverflow
        ticks={[...stochTicks, ...stochTags]}
        interval={0}
        tick={StochTick}
        tickLine={false}
        tickSize={0}
        tickMargin={0}
        axisLine={{ stroke: AXIS_COLOR, strokeWidth: 1.5 }}
      />
      <Area dataKey="above" stroke="none" fill="#bcc0e2" fillOpacity={1} isAnimationActive={false} dot={false} activeDot={false} />
      <Area dataKey="below" stroke="none" fill="#f2bfbf" fillOpacity={1} isAnimationActive={false} dot={false} activeDot={false} />
      <ReferenceLine y={80} stroke="#3333dd" strokeWidth={2} />
      <ReferenceLine y={20} stroke="#3333dd" strokeWidth={2} />
      <Line dataKey="d" stroke="#ee1111" strokeWidth={1} strokeDasharray="3 2" dot={false} activeDot={false} isAnimationActive={false} />
      <Line dataKey="k" stroke="#222" strokeWidth={1.2} dot={false} activeDot={false} isAnimationActive={false} />
    </ComposedChart>
  );
}

function VolumeChart() {
  return (
    <ComposedChart width={WIDTH} height={105} data={volumeBars} margin={{ top: 0, right: 0, bottom: 0, left: 0 }}>
      <XAxis
        dataKey="day"
        type="number"
        domain={X_DOMAIN}
        allowDataOverflow
        height={19}
        ticks={xTickDays}
        interval={0}
        tick={DayTick}
        tickLine={false}
        tickSize={0}
        tickMargin={0}
        axisLine={{ stroke: AXIS_COLOR, strokeWidth: 1.5 }}
      />
      <YAxis
        orientation="right"
        width={58}
        type="number"
        domain={[0, 44675]}
        allowDataOverflow
        ticks={[...volumeTicks, volumeTag]}
        interval={0}
        tick={VolumeTick}
        tickLine={false}
        tickSize={0}
        tickMargin={0}
        axisLine={{ stroke: AXIS_COLOR, strokeWidth: 1.5 }}
      />
      <Bar dataKey="v" barSize={3} isAnimationActive={false}>
        {volumeBars.map((bar) => (
          <Cell
            key={bar.day}
            fill={bar.dir === 'g' ? '#38cc38' : '#e06060'}
            stroke={bar.dir === 'g' ? '#1f9a1f' : '#ac3030'}
            strokeWidth={1}
          />
        ))}
      </Bar>
    </ComposedChart>
  );
}

function Panel({ top, children }: any) {
  return <div style={{ position: 'absolute', left: 0, top, width: WIDTH }}>{children}</div>;
}

function Rule({ top }: { top: number }) {
  return <div style={{ position: 'absolute', left: 0, top, width: WIDTH - 58, height: 1, background: AXIS_COLOR }} />;
}

export default function App() {
  return (
    <div style={{ position: 'fixed', left: 0, top: 0, width: WIDTH, height: 1080, background: '#fff', overflow: 'hidden' }}>
      <Panel top={22}>
        <PriceChart />
      </Panel>
      <Panel top={806}>
        <StochasticChart />
      </Panel>
      <Panel top={974}>
        <VolumeChart />
      </Panel>
      <Rule top={806} />
      <Rule top={974} />
      <div style={{ position: 'absolute', left: 0, top: 1079, width: WIDTH, height: 1, background: AXIS_COLOR }} />
      <div style={{ position: 'absolute', left: 0, top: 22, width: 1, height: 1058, background: AXIS_COLOR }} />
      <Header />
      <div style={{ position: 'absolute', left: 3, top: 794, font: `11px ${FONT}`, color: '#222' }}>© ProRealTime.com</div>
      <div style={{ position: 'absolute', left: 1745, top: 770, font: `22px ${FONT}`, color: '#e3e7eb', transform: 'scaleX(0.93)', transformOrigin: 'left' }}>
        BTCUSD, J
      </div>
      <Chip left={0} width={126} top={807}>
        <Swatch colors={['#000', '#ee1111']} />Stochastique (14 3 5)
      </Chip>
      <Chip left={0} width={58} top={975}>
        <Swatch colors={['#44cc44', '#dd6a5e']} />Volume
      </Chip>
    </div>
  );
}
